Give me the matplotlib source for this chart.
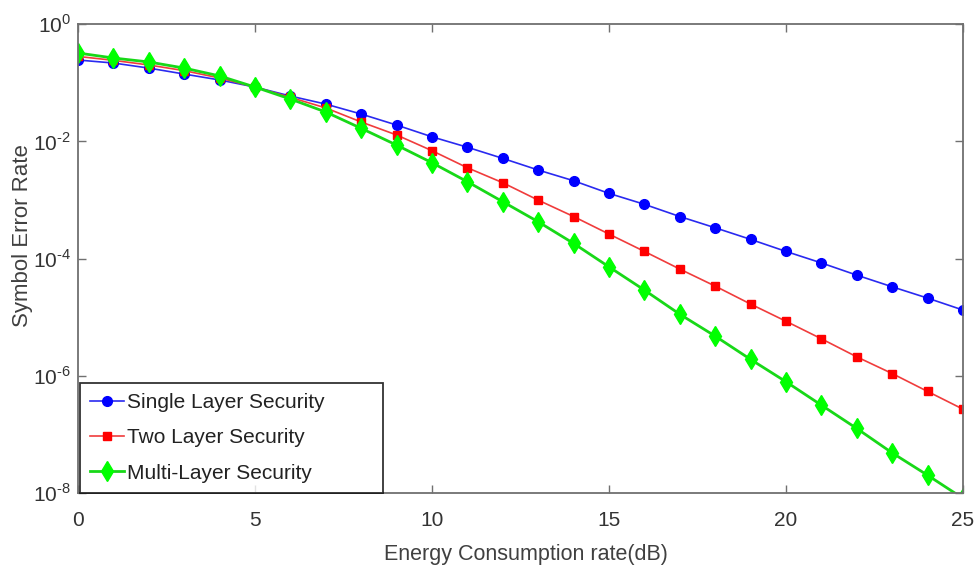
import matplotlib
matplotlib.use("Agg")

import matplotlib.pyplot as plt
from matplotlib.ticker import FixedLocator, NullLocator, FuncFormatter
import numpy as np

plt.rcParams["font.family"] = ["Liberation Sans", "DejaVu Sans"]
plt.rcParams["mathtext.fontset"] = "custom"
plt.rcParams["mathtext.rm"] = "Liberation Sans"

# Energy consumption rate (dB)
snr_db = list(range(26))

# Symbol error rate
ser_single = [2.43e-1, 2.16e-1, 1.77e-1, 1.40e-1, 1.11e-1, 8.4e-2, 5.9e-2, 4.3e-2,
              2.91e-2, 1.89e-2, 1.19e-2, 7.9e-3, 5.1e-3, 3.23e-3, 2.12e-3, 1.29e-3,
              8.4e-4, 5.2e-4, 3.34e-4, 2.12e-4, 1.32e-4, 8.4e-5, 5.2e-5, 3.29e-5,
              2.11e-5, 1.32e-5]
ser_two = [2.8e-1, 2.4e-1, 2.0e-1, 1.6e-1, 1.2e-1, 8.4e-2, 5.6e-2, 3.7e-2,
           2.13e-2, 1.28e-2, 6.9e-3, 3.53e-3, 1.96e-3, 9.9e-4, 5.2e-4, 2.61e-4,
           1.32e-4, 6.6e-5, 3.38e-5, 1.67e-5, 8.5e-6, 4.27e-6, 2.10e-6, 1.09e-6,
           5.4e-7, 2.69e-7]
ser_multi = [3.2e-1, 2.63e-1, 2.25e-1, 1.77e-1, 1.30e-1, 8.4e-2, 5.25e-2, 3.15e-2,
             1.66e-2, 8.6e-3, 4.3e-3, 2.04e-3, 9.3e-4, 4.23e-4, 1.81e-4, 7.2e-5,
             2.89e-5, 1.12e-5, 4.74e-6, 1.90e-6, 7.9e-7, 3.15e-7, 1.26e-7, 4.83e-8,
             2.01e-8, 8.1e-9]

labels = ["Single Layer Security", "Two Layer Security", "Multi-Layer Security"]


def pow10_label(v, pos):
    # MATLAB-style exponent with a plain hyphen
    e = int(round(np.log10(v)))
    return r"$10^{\text{%d}}$" % e


fig = plt.figure(figsize=(9.79, 5.69), dpi=100)
ax = fig.add_axes([78 / 979, 1 - 493 / 569, 885 / 979, 469 / 569])

ax.plot(snr_db, ser_single, color="#2a2af0", lw=1.2, marker="o", ms=7,
        mfc="#0000ff", mec="#0000ff", label=labels[0])
ax.plot(snr_db, ser_two, color="#f03c3c", lw=1.2, marker="s", ms=5.5,
        mfc="#ff0000", mec="#ff0000", label=labels[1])
ax.plot(snr_db, ser_multi, color="#18d818", lw=2.0, marker="d", ms=10,
        mfc="#00ff00", mec="#00ff00", label=labels[2])

ax.set_yscale("log")
ax.set_xlim(0, 25)
ax.set_ylim(1e-8, 1)
ax.set_xticks([0, 5, 10, 15, 20, 25])
ax.yaxis.set_major_locator(FixedLocator([1e-8, 1e-6, 1e-4, 1e-2, 1]))
ax.yaxis.set_minor_locator(NullLocator())
ax.yaxis.set_major_formatter(FuncFormatter(pow10_label))

ax.tick_params(which="both", direction="in", top=True, right=True,
               length=6, width=1, color="#707070", labelcolor="#333333",
               labelsize=15)
ax.tick_params(axis="x", pad=13)
ax.tick_params(axis="y", pad=5)
for s in ax.spines.values():
    s.set_color("#707070")
    s.set_linewidth(1.3)

ax.set_xlabel("Energy Consumption rate(dB)", fontsize=15.5, color="#404040",
              labelpad=10, x=0.506)
ax.set_ylabel("Symbol Error Rate", fontsize=16, color="#404040",
              labelpad=0, y=0.548)

leg = ax.legend(loc="lower left", bbox_to_anchor=(0.002, 0, 0.343, 0.2),
                mode="expand", borderaxespad=0, fontsize=15, frameon=True,
                fancybox=False, handlelength=1.6, handletextpad=0.15,
                labelspacing=0.78, borderpad=0.5)
leg.get_frame().set_edgecolor("#000000")
leg.get_frame().set_linewidth(1.3)
for t in leg.get_texts():
    t.set_color("#222222")

fig.savefig("out.png", dpi=100)
